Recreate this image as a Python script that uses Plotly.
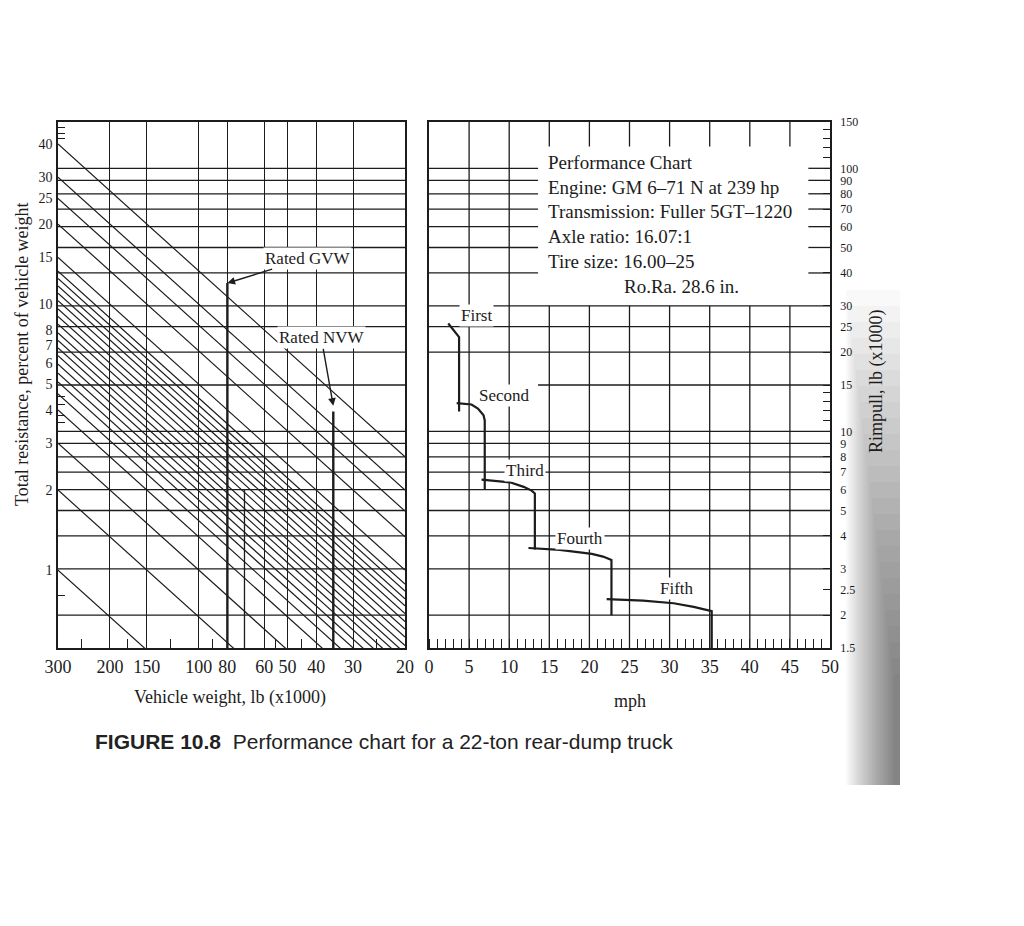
import numpy as np
import plotly.graph_objects as go

W, H = 1024, 926
OFF = 8          # the page body adds an 8 px margin round the figure
SERIF = "Liberation Serif"
SANS = "Liberation Sans"
INK = "#1c1c1c"

# ---- left panel: total resistance (%) against vehicle weight (x1000 lb) ----
weight_ticks = [300, 200, 150, 100, 80, 60, 50, 40, 30, 20]
weight_minor = [250, 175, 125, 90, 55, 45, 25]
resistance_ticks = [1, 2, 3, 4, 5, 6, 7, 8, 10, 15, 20, 25, 30, 40]
resistance_minor = [0.8, 3.6, 3.8, 4.2, 4.5, 42, 44, 46]
# resistance (%) at which each diagonal leaves the 300 edge
diagonal_start_pct = [40, 30, 25, 20, 15, 13.3, 12.5, 11.7, 11.0, 10.3, 9.6, 9.0, 8.4,
                      7.8, 7.3, 6.85, 6.4, 5.95, 5.5, 5.1, 4.6, 4.0, 3.0, 2.0, 1.0]
rated_gvw, rated_gvw_top = 80, 12.0
rated_nvw, rated_nvw_top = 35, 3.95
short_weight_line, short_weight_top = 70, 2.0

# ---- right panel: rimpull (x1000 lb) against speed (mph) ----
speed_ticks = list(range(0, 55, 5))
speed_grid_full = [5, 10]
speed_grid_lower = [15, 20, 25, 30, 35, 40, 45]
rimpull_ticks = [1.5, 2, 2.5, 3, 4, 5, 6, 7, 8, 9, 10, 15, 20, 25, 30,
                 40, 50, 60, 70, 80, 90, 100, 150]
rimpull_minor = [11, 12, 13, 14, 110, 120, 130, 140]
rimpull_grid = [2, 3, 4, 5, 6, 7, 8, 9, 10, 15, 20, 25, 30, 40, 50, 60, 70, 80, 90, 100]
rimpull_grid_split = [40, 50, 60, 70, 80, 90, 100]   # interrupted by the spec box
box_left_mph, box_right_mph = 13.6, 47.3
lower_grid_top, top_tick_low = 30, 121

first_mph = [2.4, 3.75, 3.75]
first_rimpull = [25.7, 22.8, 11.9]
second_mph = [3.45, 5.3, 6.1, 6.8, 6.95, 6.95]
second_rimpull = [12.8, 12.65, 12.2, 11.5, 11.0, 6.0]
third_mph = [6.55, 10.1, 11.8, 12.8, 13.2, 13.2]
third_rimpull = [6.55, 6.4, 6.15, 5.95, 5.8, 3.55]
fourth_mph = [12.4, 16.3, 20.3, 21.7, 22.75, 22.75]
fourth_rimpull = [3.6, 3.54, 3.42, 3.34, 3.24, 2.0]
fifth_mph = [22.15, 26.7, 30.5, 33.0, 35.25, 35.25]
fifth_rimpull = [2.3, 2.27, 2.22, 2.15, 2.07, 1.45]
gear_labels = ["First", "Second", "Third", "Fourth", "Fifth"]
gear_label_mph = [5.9, 9.4, 12.0, 18.8, 30.9]
gear_label_rimpull = [27.6, 13.7, 7.1, 3.9, 2.53]

spec_lines = [
    "Performance Chart",
    "Engine: GM 6\u201371 N at 239 hp",
    "Transmission: Fuller 5GT\u20131220",
    "Axle ratio: 16.07:1",
    "Tire size: 16.00\u201325",
    "\u00a0" * 16 + "Ro.Ra. 28.6 in.",
]


def px(p):
    return (p - OFF) / W


def py(p):
    return 1 - (p - OFF) / H


def segments(pairs):
    xs, ys = [], []
    for (x0, x1), (y0, y1) in pairs:
        xs += [x0, x1, None]
        ys += [y0, y1, None]
    return xs, ys


def line(xs, ys, width, xa="x", ya="y"):
    return go.Scatter(x=xs, y=ys, mode="lines", xaxis=xa, yaxis=ya, hoverinfo="skip",
                      line=dict(color=INK, width=width))


def paper_text(x, y, text, size=18, family=SERIF, color=INK, **kw):
    kw.setdefault("xanchor", "center")
    kw.setdefault("yanchor", "middle")
    fig.add_annotation(x=px(x), y=py(y), xref="paper", yref="paper", text=text,
                       showarrow=False, font=dict(size=size, family=family, color=color), **kw)


fig = go.Figure()

# left panel grid: horizontal lines follow the rimpull scale
hx, hy = segments([((300, 20), (g, g)) for g in rimpull_grid])
fig.add_trace(line(hx, hy, 1.3, "x", "y3"))
vx, vy = segments([((short_weight_line, short_weight_line), (short_weight_top, 0.3))])
fig.add_trace(line(vx, vy, 1.3))
dx, dy = segments([((300, 20), (r, r * 20 / 300)) for r in diagonal_start_pct])
fig.add_trace(line(dx, dy, 1.2))
rx, ry = segments([((rated_gvw, rated_gvw), (rated_gvw_top, 0.3)),
                   ((rated_nvw, rated_nvw), (rated_nvw_top, 0.3))])
fig.add_trace(line(rx, ry, 2.4))

# right panel grid
pairs = []
for g in rimpull_grid:
    if g in rimpull_grid_split:
        pairs += [((0, box_left_mph), (g, g)), ((box_right_mph, 50), (g, g))]
    elif g == 15:
        pairs += [((box_left_mph, 50), (g, g))]
    else:
        pairs += [((0, 50), (g, g))]
for s in speed_grid_full:
    pairs += [((s, s), (1.5, 150))]
for s in speed_grid_lower:
    pairs += [((s, s), (1.5, lower_grid_top)), ((s, s), (top_tick_low, 150))]
gx, gy = segments(pairs)
fig.add_trace(line(gx, gy, 1.3, "x2", "y2"))

for xs, ys in [(first_mph, first_rimpull), (second_mph, second_rimpull),
               (third_mph, third_rimpull), (fourth_mph, fourth_rimpull),
               (fifth_mph, fifth_rimpull)]:
    fig.add_trace(line(xs, ys, 2.2, "x2", "y2"))

axis_common = dict(showline=True, mirror=True, linecolor=INK, linewidth=1.6,
                   zeroline=False, color=INK, automargin=False)
y_dom = [py(648), py(122)]

fig.update_layout(
    width=W, height=H, margin=dict(l=0, r=0, t=0, b=0, autoexpand=False),
    paper_bgcolor="white", plot_bgcolor="white", showlegend=False,
    font=dict(family=SERIF, color=INK),
    xaxis=dict(**axis_common, domain=[px(58), px(405)], type="log",
               range=[np.log10(300), np.log10(20)],
               tickmode="array", tickvals=weight_ticks, ticktext=[str(v) for v in weight_ticks],
               ticks="", showgrid=True, gridcolor=INK, gridwidth=1.3,
               tickfont=dict(size=18), ticklabelstandoff=2,
               minor=dict(tickmode="array", tickvals=weight_minor, ticks="inside",
                          ticklen=9, tickcolor=INK, tickwidth=1.3, showgrid=False)),
    yaxis=dict(**axis_common, domain=y_dom, anchor="x", type="log", range=[-0.293, 1.685],
               tickmode="array", tickvals=resistance_ticks,
               ticktext=[str(v) for v in resistance_ticks],
               ticks="", showgrid=False, tickfont=dict(size=14), ticklabelstandoff=1,
               minor=dict(tickmode="array", tickvals=resistance_minor, ticks="inside",
                          ticklen=7, tickcolor=INK, tickwidth=1.2, showgrid=False)),
    yaxis3=dict(overlaying="y", anchor="x", type="log", visible=False,
                range=[np.log10(1.5), np.log10(150)]),
    xaxis2=dict(**axis_common, domain=[px(429), px(830)], anchor="y2", range=[0, 50],
                tickmode="array", tickvals=speed_ticks, ticks="", showgrid=False,
                tickfont=dict(size=18), ticklabelstandoff=2,
                minor=dict(dtick=1, ticks="inside", ticklen=9, tickcolor=INK,
                           tickwidth=1.2, showgrid=False)),
    yaxis2=dict(**axis_common, domain=y_dom, anchor="x2", side="right", type="log",
                range=[np.log10(1.5), np.log10(150)],
                tickmode="array", tickvals=rimpull_ticks,
                ticktext=[str(v) for v in rimpull_ticks],
                ticks="inside", ticklen=7, tickwidth=1.3, tickcolor=INK, showgrid=False,
                tickfont=dict(size=12), ticklabelstandoff=6,
                minor=dict(tickmode="array", tickvals=rimpull_minor, ticks="inside",
                           ticklen=7, tickcolor=INK, tickwidth=1.2, showgrid=False)),
)

# gear labels sit on white patches over the grid
for text, s, r in zip(gear_labels, gear_label_mph, gear_label_rimpull):
    fig.add_annotation(x=s, y=np.log10(r), xref="x2", yref="y2", text=text, showarrow=False,
                       bgcolor="white", borderpad=1, font=dict(size=17, family=SERIF))

fig.add_annotation(x=np.log10(rated_gvw), y=np.log10(rated_gvw_top), xref="x", yref="y",
                   text="Rated GVW", ax=80, ay=-25, showarrow=True, arrowhead=2,
                   arrowsize=1.1, arrowwidth=1.4, arrowcolor=INK, bgcolor="white",
                   font=dict(size=17, family=SERIF))
fig.add_annotation(x=np.log10(rated_nvw), y=np.log10(rated_nvw_top * 1.05), xref="x", yref="y",
                   text="Rated NVW", ax=-12, ay=-68, showarrow=True, arrowhead=2,
                   arrowsize=1.1, arrowwidth=1.4, arrowcolor=INK, bgcolor="white",
                   font=dict(size=17, family=SERIF))

paper_text(546, 150, "<br>".join(spec_lines), size=19,
           xanchor="left", yanchor="top", align="left")
paper_text(22, 354, "Total resistance, percent of vehicle weight", textangle=-90)
paper_text(230, 697, "Vehicle weight, lb (x1000)")
paper_text(630, 701, "mph")
paper_text(876, 381, "Rimpull, lb (x1000)", textangle=-90)
paper_text(93, 741, "<b>FIGURE 10.8</b>\u00a0\u00a0Performance chart for a 22-ton rear-dump truck",
           size=21, family=SANS, color="#222", xanchor="left")

# grey shadow from the scanned page edge, built up from thin overlapping strips
for i in range(25):
    left = 846 + i * 2
    top = 290 + i * 16
    fig.add_shape(type="rect", xref="paper", yref="paper", layer="below",
                  x0=px(left), x1=px(900), y0=py(785), y1=py(top),
                  line=dict(width=0), fillcolor="rgba(0,0,0,0.024)")

fig.write_html("out.html")
